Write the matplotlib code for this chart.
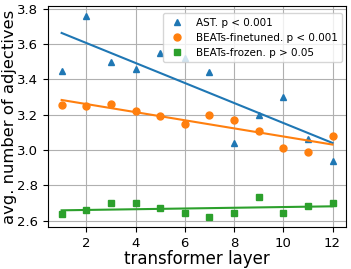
import numpy as np
import matplotlib.pyplot as plt

layers = np.arange(1, 13)
ast = [3.45, 3.76, 3.50, 3.46, 3.55, 3.52, 3.44, 3.04, 3.20, 3.30, 3.06, 2.94]
beats_ft = [3.255, 3.25, 3.26, 3.22, 3.19, 3.15, 3.20, 3.17, 3.11, 3.01, 2.99, 3.08]
beats_fz = [2.635, 2.66, 2.70, 2.70, 2.67, 2.64, 2.62, 2.645, 2.735, 2.645, 2.68, 2.70]

series = [
    (ast, '^', 'tab:blue', 'AST. p < 0.001'),
    (beats_ft, 'o', 'tab:orange', 'BEATs-finetuned. p < 0.001'),
    (beats_fz, 's', 'tab:green', 'BEATs-frozen. p > 0.05'),
]

fig, ax = plt.subplots(figsize=(3.51, 2.69), dpi=100)
for vals, m, c, lab in series:
    ax.plot(layers, vals, m, color=c, markersize=5, label=lab)
    k, b = np.polyfit(layers, vals, 1)
    ax.plot(layers, k * layers + b, '-', color=c, linewidth=1.5)

ax.grid(True)
ax.set_xticks([2, 4, 6, 8, 10, 12])
ax.tick_params(labelsize=9.5)
ax.set_xlabel('transformer layer', fontsize=12, labelpad=0)
ax.set_ylabel('avg. number of adjectives', fontsize=11.8, labelpad=0)
ax.legend(loc='upper right', fontsize=7.5, borderaxespad=0.4,
          bbox_to_anchor=(1.0, 0.985))
fig.subplots_adjust(left=0.137, right=0.986, top=0.978, bottom=0.156)
plt.savefig('out.png', dpi=100)
